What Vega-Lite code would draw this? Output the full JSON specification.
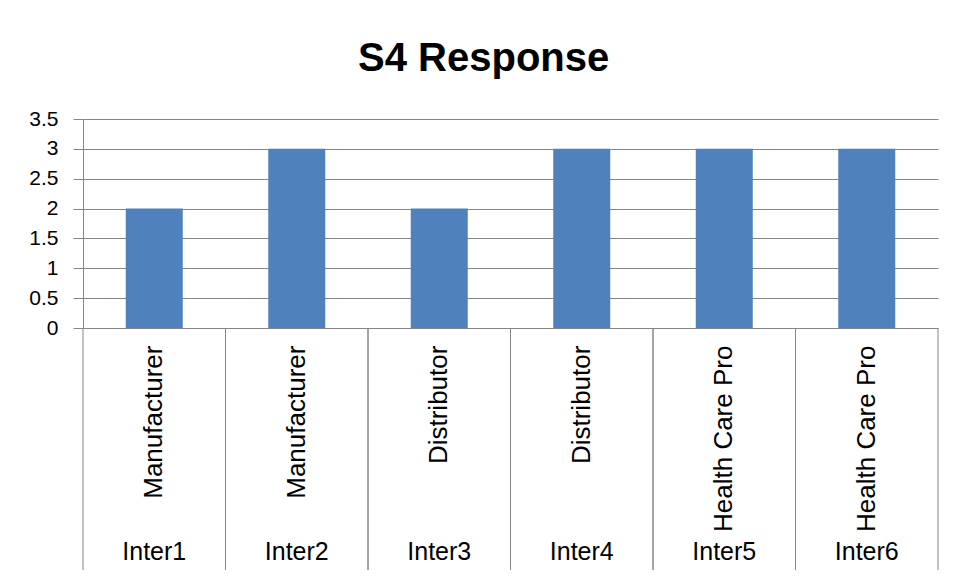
{
  "$schema": "https://vega.github.io/schema/vega-lite/v6.json",
  "padding": {"left": 28, "top": 39, "right": 10, "bottom": 5},
  "background": "white",
  "bounds": "flush",
  "title": {
    "text": "S4 Response",
    "font": "Liberation Sans",
    "fontSize": 40,
    "fontWeight": "bold",
    "color": "black",
    "anchor": "middle",
    "frame": "bounds",
    "offset": 29
  },
  "data": {
    "values": [
      {"inter": "Inter1", "role": "Manufacturer", "value": 2},
      {"inter": "Inter2", "role": "Manufacturer", "value": 3},
      {"inter": "Inter3", "role": "Distributor", "value": 2},
      {"inter": "Inter4", "role": "Distributor", "value": 3},
      {"inter": "Inter5", "role": "Health Care Pro", "value": 3},
      {"inter": "Inter6", "role": "Health Care Pro", "value": 3}
    ]
  },
  "spacing": 0,
  "vconcat": [
    {
      "width": 855,
      "height": 209,
      "mark": {"type": "bar", "color": "#4F81BD"},
      "encoding": {
        "x": {
          "field": "inter",
          "type": "nominal",
          "sort": null,
          "scale": {"paddingInner": 0.6, "paddingOuter": 0.3},
          "axis": null
        },
        "y": {
          "field": "value",
          "type": "quantitative",
          "scale": {"domain": [0, 3.5], "nice": false},
          "axis": {
            "values": [0, 0.5, 1, 1.5, 2, 2.5, 3, 3.5],
            "format": "~g",
            "title": null,
            "grid": true,
            "gridColor": "#868686",
            "gridWidth": 1,
            "gridOpacity": 1,
            "domainColor": "#868686",
            "tickColor": "#868686",
            "tickSize": 10,
            "labelPadding": 15,
            "labelFont": "Liberation Sans",
            "labelFontSize": 21,
            "labelColor": "black"
          }
        }
      }
    },
    {
      "width": 855,
      "height": 242,
      "layer": [
        {
          "mark": {"type": "rule", "color": "#868686", "strokeWidth": 1},
          "encoding": {
            "x": {"field": "inter", "type": "nominal", "sort": null, "bandPosition": 0, "scale": {"paddingInner": 0, "paddingOuter": 0}, "axis": null}
          }
        },
        {
          "mark": {"type": "rule", "color": "#868686", "strokeWidth": 1},
          "encoding": {
            "x": {"field": "inter", "type": "nominal", "sort": null, "bandPosition": 1, "axis": null}
          }
        },
        {
          "mark": {"type": "text", "angle": 270, "align": "right", "baseline": "middle", "font": "Liberation Sans", "fontSize": 26, "color": "black"},
          "encoding": {
            "x": {"field": "inter", "type": "nominal", "sort": null, "axis": null},
            "y": {"datum": "role", "type": "nominal", "scale": {"type": "point", "domain": ["role", "inter"], "padding": 0.085}, "axis": null},
            "text": {"field": "role"}
          }
        },
        {
          "mark": {"type": "text", "align": "center", "baseline": "middle", "font": "Liberation Sans", "fontSize": 25, "color": "black"},
          "encoding": {
            "x": {"field": "inter", "type": "nominal", "sort": null, "axis": null},
            "y": {"datum": "inter", "type": "nominal", "axis": null},
            "text": {"field": "inter"}
          }
        }
      ]
    }
  ],
  "config": {
    "view": {"stroke": null},
    "axis": {"labelFont": "Liberation Sans"}
  }
}
